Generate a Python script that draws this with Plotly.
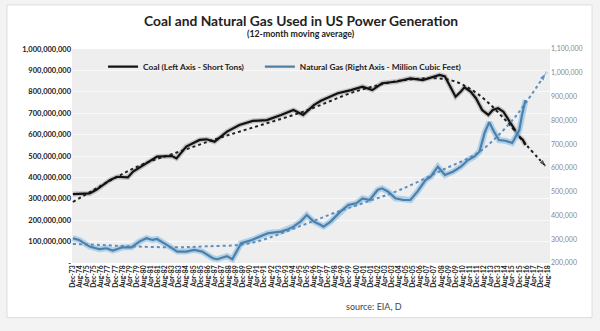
import pandas as pd
import plotly.graph_objects as go

# ---------------- data ----------------
coal_dates = ["1973-12", "1975-07", "1976-02", "1977-06", "1978-02", "1979-02", "1979-08",
              "1980-11", "1981-11", "1983-04", "1983-09", "1984-08", "1985-11", "1986-07",
              "1987-04", "1988-06", "1989-08", "1990-11", "1992-03", "1993-07", "1994-09",
              "1995-08", "1996-08", "1997-04", "1998-11", "2000-02", "2001-03", "2002-02",
              "2003-01", "2004-06", "2005-09", "2006-11", "2008-06", "2008-12", "2009-06",
              "2009-12", "2010-06", "2010-10", "2011-05", "2011-11", "2012-06", "2013-01",
              "2013-06", "2013-12", "2014-06", "2014-12", "2015-06", "2015-12", "2016-04",
              "2016-07"]
coal_tons = [322e6, 325e6, 341e6, 388e6, 403e6, 400e6, 427e6,
             466e6, 497e6, 500e6, 489e6, 544e6, 575e6, 578e6,
             567e6, 614e6, 645e6, 664e6, 668e6, 692e6, 715e6,
             692e6, 738e6, 758e6, 793e6, 808e6, 824e6, 808e6,
             840e6, 848e6, 863e6, 855e6, 879e6, 872e6, 825e6,
             777e6, 801e6, 821e6, 801e6, 770e6, 715e6, 692e6,
             715e6, 723e6, 707e6, 668e6, 629e6, 590e6, 575e6,
             551e6]

coal_trend_dates = ["1973-12", "1977-06", "1980-06", "1983-12", "1987-06", "1990-08",
                    "1995-08", "2000-12", "2005-09", "2009-06", "2012-01", "2014-10",
                    "2016-08", "2018-07"]
coal_trend = [285e6, 385e6, 460e6, 520e6, 580e6, 629e6,
              707e6, 808e6, 858e6, 855e6, 790e6, 660e6,
              551e6, 447e6]

gas_dates = ["1973-12", "1974-07", "1975-07", "1976-06", "1977-02", "1977-09", "1978-08",
             "1979-06", "1980-03", "1980-11", "1981-06", "1981-11", "1982-10", "1983-10",
             "1984-08", "1985-05", "1986-02", "1987-02", "1987-07", "1988-06", "1988-12",
             "1989-10", "1990-10", "1991-07", "1992-04", "1993-07", "1994-03", "1994-09",
             "1995-05", "1995-12", "1996-08", "1997-04", "1997-07", "1998-03", "1999-02",
             "1999-11", "2000-08", "2001-03", "2001-11", "2002-08", "2003-01", "2003-08",
             "2004-04", "2005-01", "2005-09", "2006-05", "2007-02", "2007-08", "2008-04",
             "2008-12", "2009-09", "2010-06", "2011-02", "2011-09", "2012-03", "2012-09",
             "2013-02", "2013-07", "2014-01", "2014-08", "2015-04", "2015-12", "2016-03",
             "2016-07"]
gas_mmcf = [304e3, 297e3, 269e3, 258e3, 262e3, 252e3, 266e3,
            266e3, 290e3, 304e3, 297e3, 301e3, 276e3, 248e3,
            248e3, 255e3, 248e3, 220e3, 216e3, 229e3, 216e3,
            283e3, 297e3, 311e3, 325e3, 332e3, 342e3, 353e3,
            374e3, 402e3, 374e3, 360e3, 353e3, 374e3, 416e3,
            444e3, 451e3, 472e3, 465e3, 507e3, 514e3, 500e3,
            472e3, 465e3, 465e3, 500e3, 549e3, 563e3, 605e3,
            570e3, 584e3, 605e3, 633e3, 647e3, 668e3, 750e3,
            792e3, 755e3, 717e3, 714e3, 705e3, 759e3, 822e3,
            885e3]

gas_trend_dates = ["1973-12", "1976-06", "1979-06", "1983-06", "1986-06", "1990-08",
                   "1995-08", "1998-06", "2001-06", "2004-09", "2008-09", "2012-03",
                   "2015-01", "2016-08", "2018-07"]
gas_trend = [280e3, 276e3, 270e3, 266e3, 270e3, 283e3,
             360e3, 409e3, 455e3, 507e3, 591e3, 668e3,
             787e3, 878e3, 1004e3]

x_ticks = pd.date_range("1973-12-01", "2018-08-01", freq="8MS")
x_tick_labels = [d.strftime("%b-%y") for d in x_ticks]
left_ticks = [i * 100_000_000 for i in range(11)]
left_tick_labels = ["-"] + [f"{v:,}" for v in left_ticks[1:]]
right_ticks = [i * 100_000 for i in range(2, 12)]
right_tick_labels = [f"{v:,}" for v in right_ticks]

# ---------------- figure ----------------
COAL = "#111111"
GAS = "#4d7fa8"
FONT = "Lato, 'Open Sans', sans-serif"

fig = go.Figure()

# glow / shadow under the main lines
fig.add_trace(go.Scatter(x=coal_dates, y=coal_tons, mode="lines", yaxis="y",
                         line=dict(color="rgba(60,60,60,0.25)", width=5),
                         hoverinfo="skip", showlegend=False))
fig.add_trace(go.Scatter(x=gas_dates, y=gas_mmcf, mode="lines", yaxis="y2",
                         line=dict(color="rgba(150,195,230,0.7)", width=6),
                         hoverinfo="skip", showlegend=False))

n_ct = len(coal_trend)
fig.add_trace(go.Scatter(x=coal_trend_dates, y=coal_trend, mode="lines+markers", yaxis="y",
                         line=dict(color="#222222", width=2, dash="dot", shape="spline"),
                         marker=dict(symbol="arrow", angleref="previous",
                                     size=[0] * (n_ct - 1) + [9], color="#222222"),
                         hoverinfo="skip", showlegend=False))
n_gt = len(gas_trend)
fig.add_trace(go.Scatter(x=gas_trend_dates, y=gas_trend, mode="lines+markers", yaxis="y2",
                         line=dict(color="#5b8fc0", width=2, dash="dot", shape="spline"),
                         marker=dict(symbol="arrow", angleref="previous",
                                     size=[0] * (n_gt - 1) + [10], color="#5b8fc0"),
                         hoverinfo="skip", showlegend=False))

fig.add_trace(go.Scatter(x=coal_dates, y=coal_tons, mode="lines", yaxis="y",
                         name="Coal (Left Axis - Short Tons)", legend="legend",
                         line=dict(color=COAL, width=2.2)))
fig.add_trace(go.Scatter(x=gas_dates, y=gas_mmcf, mode="lines", yaxis="y2",
                         name="Natural Gas (Right Axis - Million Cubic Feet)", legend="legend2",
                         line=dict(color=GAS, width=2.2)))

# card background and plot-area background
fig.add_shape(type="rect", xref="paper", yref="paper", x0=-0.136, x1=1.088, y0=-0.255, y1=1.206,
              fillcolor="white", line=dict(color="#dddddd", width=1), layer="below")
fig.add_shape(type="rect", xref="paper", yref="paper", x0=0, x1=1, y0=0, y1=1,
              fillcolor="#eeeeee", line=dict(width=0), layer="below")

legend_font = dict(size=8.3, color="#222222", family=FONT, weight="bold")

fig.update_layout(
    width=600, height=331,
    margin=dict(l=72, r=50, t=49, b=68),
    paper_bgcolor="#f3f3f3",
    plot_bgcolor="rgba(0,0,0,0)",
    font=dict(family=FONT, color="#333333"),
    showlegend=True,
    legend=dict(orientation="h", x=0.065, y=0.985, xanchor="left", yanchor="top",
                bgcolor="rgba(0,0,0,0)", font=legend_font),
    legend2=dict(orientation="h", x=0.393, y=0.985, xanchor="left", yanchor="top",
                 bgcolor="rgba(0,0,0,0)", font=legend_font),
    xaxis=dict(type="date", range=["1973-11-01", "2018-10-20"],
               tickvals=list(x_ticks), ticktext=[f"<b>{t}</b>" for t in x_tick_labels],
               tickangle=-90,
               tickfont=dict(size=6.8, color="#222222", family=FONT),
               showgrid=False, zeroline=False, ticks="", showline=False),
    yaxis=dict(range=[0, 1_000_000_000], tickvals=left_ticks,
               ticktext=[f"<b>{t}</b>" for t in left_tick_labels],
               tickfont=dict(size=7.5, color="#222222", family=FONT),
               showgrid=True, gridcolor="#f9f9f9", gridwidth=1, zeroline=False,
               ticks="", ticklen=0, showline=False),
    yaxis2=dict(range=[200_000, 1_100_000], tickvals=right_ticks, ticktext=right_tick_labels,
                overlaying="y", side="right",
                tickfont=dict(size=7, color="#888888", family=FONT),
                showgrid=False, zeroline=False, ticks="", showline=False),
)

fig.add_annotation(text="<b>Coal and Natural Gas Used in US Power Generation</b>",
                   xref="paper", yref="paper", x=0.479, y=1.132, xanchor="center",
                   yanchor="middle", showarrow=False,
                   font=dict(size=13.8, color="#222222", family=FONT))
fig.add_annotation(text="<b>(12-month moving average)</b>",
                   xref="paper", yref="paper", x=0.479, y=1.073, xanchor="center",
                   yanchor="middle", showarrow=False,
                   font=dict(size=8.8, color="#222222", family=FONT))
fig.add_annotation(text="source: EIA, D", xref="paper", yref="paper", x=0.57, y=-0.205,
                   xanchor="left", yanchor="middle", showarrow=False,
                   font=dict(size=9, color="#444444", family=FONT))

fig.write_html("out.html")
